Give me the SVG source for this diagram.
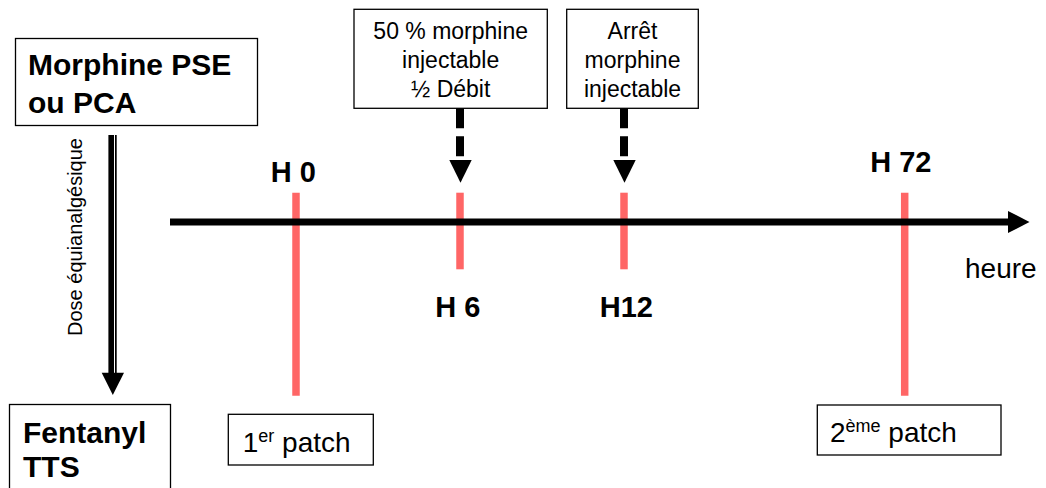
<svg xmlns="http://www.w3.org/2000/svg" width="1046" height="488" viewBox="0 0 1046 488">
<style>
.box{fill:#fff;stroke:#000;stroke-width:1.3}
.b{font-family:"Liberation Sans",Arial,sans-serif;font-weight:bold;font-size:30px;fill:#000}
.h{font-family:"Liberation Sans",Arial,sans-serif;font-weight:bold;font-size:29px;fill:#000;text-anchor:middle}
.r{font-family:"Liberation Sans",Arial,sans-serif;font-size:23px;fill:#000;text-anchor:middle}
.p{font-family:"Liberation Sans",Arial,sans-serif;font-size:28px;fill:#000}
.tick{stroke:#ff6666;stroke-width:7.5}
.dash{stroke:#000;stroke-width:8;stroke-dasharray:20 8}
</style>
<rect width="1046" height="488" fill="#fff"/>
<g id="morphine">
<rect class="box" x="15.5" y="38.5" width="242" height="87"/>
<text class="b" x="28" y="75">Morphine PSE</text>
<text class="b" x="28" y="112.5">ou PCA</text>
</g>
<g id="fentanyl">
<rect class="box" x="9.5" y="404.5" width="161" height="100"/>
<text class="b" x="23" y="442.7">Fentanyl</text>
<text class="b" x="23" y="476.7">TTS</text>
</g>
<g id="box-50">
<rect class="box" x="354" y="9.3" width="193.3" height="99"/>
<text class="r" x="450.7" y="39.3">50 % morphine</text>
<text class="r" x="450.7" y="68.3">injectable</text>
<text class="r" x="450.7" y="96.7">½ Débit</text>
</g>
<g id="box-arret">
<rect class="box" x="566.7" y="9.3" width="131.6" height="99"/>
<text class="r" x="632.5" y="39.3">Arrêt</text>
<text class="r" x="632.5" y="68.3">morphine</text>
<text class="r" x="632.5" y="96.7">injectable</text>
</g>
<g id="patch1">
<rect class="box" x="228.3" y="414.3" width="145" height="50.7"/>
<text class="p" x="242.7" y="451.7">1<tspan font-size="18" dy="-10">er</tspan><tspan dy="10"> patch</tspan></text>
</g>
<g id="patch2">
<rect class="box" x="817.3" y="405" width="183.7" height="50"/>
<text class="p" x="830" y="441.7">2<tspan font-size="18" dy="-10">ème</tspan><tspan dy="10"> patch</tspan></text>
</g>
<g id="ticks">
<line class="tick" x1="296" y1="192.7" x2="296" y2="395.7"/>
<line class="tick" x1="460" y1="192.7" x2="460" y2="269.3"/>
<line class="tick" x1="624" y1="192.7" x2="624" y2="269.3"/>
<line class="tick" x1="904.7" y1="192.7" x2="904.7" y2="395.7"/>
</g>
<g id="labels">
<text class="h" x="293.3" y="181.7">H 0</text>
<text class="h" x="457.9" y="316.7">H 6</text>
<text class="h" x="626.3" y="316.7">H12</text>
<text class="h" x="900.8" y="171.7">H 72</text>
<text class="p" x="965" y="277.7">heure</text>
<text font-family="'Liberation Sans',Arial,sans-serif" font-size="20" text-anchor="middle" transform="translate(81.5,237) rotate(-90)">Dose équianalgésique</text>
</g>
<g id="connectors">
<line x1="170" y1="222" x2="1009" y2="222" stroke="#000" stroke-width="7"/>
<polygon points="1008,211 1029.5,222 1008,233" fill="#000"/>
<rect x="108.4" y="135" width="5.6" height="239" fill="#000"/>
<rect x="115" y="135" width="1.7" height="239" fill="#000"/>
<polygon points="101.7,372.7 124,372.7 112.8,395" fill="#000"/>
<line class="dash" x1="460" y1="108.3" x2="460" y2="161"/>
<polygon points="449.3,160 471.7,160 460.5,182.7" fill="#000"/>
<line class="dash" x1="624" y1="108.3" x2="624" y2="161"/>
<polygon points="613.3,160 635.7,160 624.5,182.7" fill="#000"/>
</g>
</svg>
